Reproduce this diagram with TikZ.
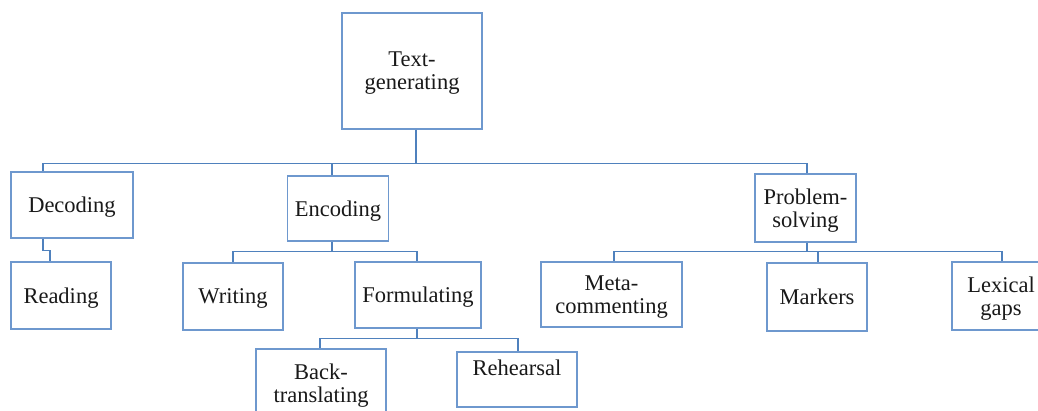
\documentclass[tikz,border=0pt]{standalone}
\usepackage{fontspec}
\setmainfont{Liberation Serif}
\usetikzlibrary{calc}
\definecolor{linec}{RGB}{79,129,189}
\definecolor{boxc}{RGB}{110,152,206}
\begin{document}
\begin{tikzpicture}[x=1pt,y=-1pt,
  box/.style={draw=boxc, line width=1.3pt, rectangle, inner sep=0pt, align=center,
    font=\fontsize{22.5}{23}\selectfont, text=black!90, text depth=-2pt},
  conn/.style={draw=linec, line width=1.3pt}]
\clip (0,0) rectangle (1038,410);
\fill[white] (0,0) rectangle (1038,410);
% nodes
\node[box, minimum width=140, minimum height=116] (tg) at (412,71) {Text-\\generating};
\node[box, minimum width=122, minimum height=66] (dec) at (72,205) {Decoding};
\node[box, minimum width=101.5, minimum height=65] (enc) at (338,208.5) {Encoding};
\node[box, minimum width=101, minimum height=68] (ps) at (805.5,208) {Problem-\\solving};
\node[box, minimum width=100, minimum height=67] (read) at (61,295.5) {Reading};
\node[box, minimum width=100, minimum height=67] (wri) at (233,296.5) {Writing};
\node[box, minimum width=126, minimum height=66] (form) at (418,295) {Formulating};
\node[box, minimum width=141, minimum height=65] (meta) at (611.5,294.5) {Meta-\\commenting};
\node[box, minimum width=100, minimum height=68, text depth=-6pt] (mark) at (817,297) {Markers};
\node[box, minimum width=98, minimum height=68] (lex) at (1001,296) {Lexical\\gaps};
\node[box, minimum width=130, minimum height=68] (back) at (321,383) {Back-\\translating};
\node[box, minimum width=120, minimum height=55] (reh) at (517,379.5) {Rehearsal\\\strut};
% connectors
\draw[conn, line width=2pt] ([xshift=4]tg.south) -- ++(0,34) coordinate (b1);
\draw[conn] ([xshift=-29]dec.north) |- (b1);
\draw[conn] ([xshift=-6]enc.north) |- (b1);
\draw[conn] ([xshift=1.5]ps.north) |- (b1);
\draw[conn] ([xshift=-29]dec.south) -- ++(0,12) -| ([xshift=-11]read.north);
\draw[conn] ([xshift=-6]enc.south) -- ++(0,10) coordinate (b2);
\draw[conn] (b2) -| (wri.north);
\draw[conn] (b2) -| ([xshift=-1]form.north);
\draw[conn] ([xshift=-1]form.south) -- ++(0,10) coordinate (b3);
\draw[conn] (b3) -| ([xshift=-1]back.north);
\draw[conn] (b3) -| ([xshift=1]reh.north);
\draw[conn] ([xshift=1.5]ps.south) -- ++(0,9) coordinate (b4);
\draw[conn] (b4) -| ([xshift=2.5]meta.north);
\draw[conn] (b4) -| ([xshift=1]mark.north);
\draw[conn] (b4) -| ([xshift=1]lex.north);
\end{tikzpicture}
\end{document}
